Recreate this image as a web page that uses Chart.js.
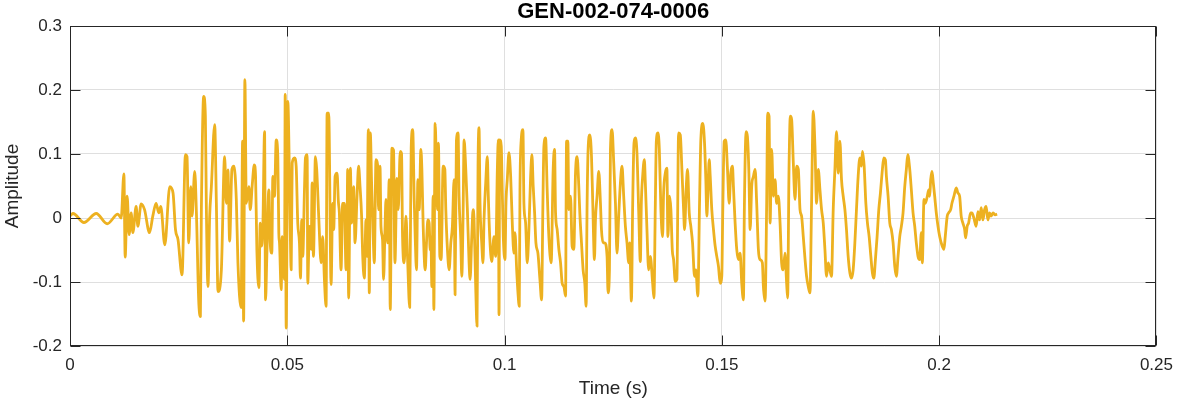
<!DOCTYPE html>
<html><head><meta charset="utf-8">
<title>GEN-002-074-0006</title>
<script src="https://cdn.jsdelivr.net/npm/chart.js"></script>
<style>
    html, body { margin: 0; padding: 0; background: #fff; }
    #wrap { width: 1182px; height: 404px; position: relative; }
</style></head>
<body>
<div id="wrap"><canvas id="grafico"></canvas></div>
<script>
// --- TEXTOS E EIXOS ---
const titulo = 'GEN-002-074-0006';
const xLabel = 'Time (s)';
const yLabel = 'Amplitude';
const xTicks = [0, 0.05, 0.1, 0.15, 0.2, 0.25];
const xTickLabels = ['0', '0.05', '0.1', '0.15', '0.2', '0.25'];
const yTicks = [-0.2, -0.1, 0, 0.1, 0.2, 0.3];
const yTickLabels = ['-0.2', '-0.1', '0', '0.1', '0.2', '0.3'];

// --- SINAL (picos e vales) ---
const timeSec = [
    0.00000,0.00030,0.00069,0.00321,0.00604,0.00856,0.01102,0.01178,0.01240,0.01270,0.01315,0.01361,0.01407,0.01446,0.01522,0.01561,0.01637,0.01715,0.01830,0.01905,0.01981,
    0.02043,0.02089,0.02181,0.02296,0.02371,0.02427,0.02486,0.02578,0.02656,0.02693,0.02732,0.02778,0.02808,0.02870,0.02909,0.02961,0.03000,0.03023,0.03076,0.03115,0.03138,0.03175,0.03214,0.03253,0.03329,0.03368,0.03405,0.03483,0.03558,0.03597,0.03634,0.03673,0.03726,0.03772,0.03827,0.03864,
    0.03937,0.03972,0.03995,0.04024,0.04057,0.04116,0.04148,0.04194,0.04240,0.04270,0.04300,0.04346,0.04378,0.04401,0.04438,0.04477,0.04500,0.04529,0.04575,0.04607,0.04644,0.04667,0.04706,0.04745,0.04782,0.04805,0.04821,0.04860,0.04883,0.04913,0.04936,0.04952,0.04975,0.05012,0.05051,0.05090,0.05113,0.05165,0.05204,0.05241,0.05280,0.05303,0.05333,0.05356,0.05395,0.05418,0.05457,0.05471,0.05510,0.05549,0.05572,0.05602,0.05647,0.05677,0.05723,0.05778,0.05815,0.05854,0.05893,0.05916,
    0.05953,0.06008,0.06045,0.06068,0.06100,0.06146,0.06175,0.06198,0.06237,0.06274,0.06313,0.06352,0.06375,0.06389,0.06412,0.06451,0.06481,0.06527,0.06559,0.06605,0.06641,0.06674,0.06710,0.06733,0.06772,0.06811,0.06834,0.06864,0.06887,0.06910,0.06940,0.06979,0.07002,0.07041,0.07078,0.07101,0.07133,0.07156,0.07192,0.07215,0.07248,0.07271,0.07307,0.07346,0.07369,0.07408,0.07445,0.07477,0.07523,0.07553,0.07599,0.07629,0.07652,0.07691,0.07730,0.07766,0.07817,0.07851,0.07886,
    0.07920,0.07943,0.07973,0.08005,0.08035,0.08074,0.08097,0.08127,0.08173,0.08203,0.08235,0.08265,0.08288,0.08304,0.08327,0.08356,0.08372,0.08402,0.08432,0.08455,0.08478,0.08510,0.08540,0.08586,0.08625,0.08648,0.08685,0.08724,0.08763,0.08799,0.08838,0.08861,0.08891,0.08930,0.08953,0.08992,0.09015,0.09045,0.09068,0.09107,0.09144,0.09183,0.09206,0.09245,0.09275,0.09298,0.09337,0.09366,0.09389,0.09412,0.09435,0.09474,0.09504,0.09527,0.09566,0.09603,0.09626,0.09658,0.09704,0.09757,0.09796,0.09833,0.09856,0.09872,
    0.09888,0.09924,0.09940,0.09970,0.10009,0.10032,0.10062,0.10101,0.10140,0.10177,0.10216,0.10239,0.10278,0.10308,0.10338,0.10354,0.10383,0.10422,0.10445,0.10484,0.10521,0.10560,0.10599,0.10629,0.10659,0.10691,0.10721,0.10767,0.10813,0.10852,0.10882,0.10905,0.10944,0.10980,0.11019,0.11072,0.11118,0.11150,0.11173,0.11210,0.11249,0.11288,0.11325,0.11364,0.11403,0.11426,0.11456,0.11479,0.11518,0.11554,0.11593,0.11632,0.11669,0.11708,0.11731,0.11770,0.11807,
    0.11846,0.11876,0.11899,0.11922,0.11961,0.12000,0.12029,0.12068,0.12091,0.12128,0.12167,0.12206,0.12229,0.12266,0.12305,0.12358,0.12381,0.12413,0.12436,0.12473,0.12512,0.12551,0.12587,0.12626,0.12665,0.12702,0.12741,0.12780,0.12817,0.12856,0.12879,0.12918,0.12948,0.12978,0.13010,0.13046,0.13085,0.13124,0.13147,0.13177,0.13216,0.13239,0.13276,0.13315,0.13354,0.13407,0.13437,0.13469,0.13492,0.13529,0.13561,0.13597,0.13636,0.13659,0.13698,0.13735,0.13758,
    0.13797,0.13827,0.13859,0.13889,0.13928,0.13965,0.14004,0.14043,0.14080,0.14119,0.14142,0.14181,0.14210,0.14249,0.14286,0.14325,0.14371,0.14401,0.14447,0.14486,0.14516,0.14562,0.14601,0.14631,0.14654,0.14676,0.14709,0.14732,0.14768,0.14807,0.14846,0.14883,0.14922,0.14961,0.14998,0.15021,0.15053,0.15090,0.15129,0.15168,0.15204,0.15244,0.15266,0.15305,0.15342,0.15381,0.15420,0.15457,0.15496,0.15519,0.15558,0.15588,0.15622,0.15650,0.15687,
    0.15726,0.15765,0.15801,0.15840,0.15879,0.15932,0.15955,0.15994,0.16031,0.16054,0.16086,0.16109,0.16146,0.16185,0.16224,0.16260,0.16299,0.16339,0.16375,0.16414,0.16453,0.16490,0.16513,0.16545,0.16575,0.16605,0.16644,0.16683,0.16720,0.16759,0.16798,0.16834,0.16873,0.16912,0.16949,0.16988,0.17027,0.17064,0.17103,0.17142,0.17179,0.17218,0.17257,0.17294,0.17333,0.17372,0.17408,0.17447,0.17486,0.17523,0.17562,0.17601,0.17638,
    0.17677,0.17716,0.17753,0.17792,0.17831,0.17867,0.17906,0.17946,0.17982,0.18021,0.18060,0.18097,0.18136,0.18175,0.18212,0.18235,0.18274,0.18313,0.18350,0.18389,0.18428,0.18464,0.18496,0.18533,0.18572,0.18611,0.18648,0.18694,0.18726,0.18763,0.18786,0.18825,0.18864,0.18900,0.18940,0.18979,0.19015,0.19054,0.19093,0.19130,0.19169,0.19208,0.19245,0.19277,0.19323,0.19360,0.19399,0.19438,0.19474,0.19513,0.19552,0.19589,0.19612,
    0.19651,0.19681,0.19727,0.19759,0.19782,0.19805,0.19835,0.19865,0.19897,0.19934,0.19973,0.20012,0.20048,0.20110,0.20140,0.20186,0.20218,0.20264,0.20294,0.20340,0.20393,0.20432,0.20471,0.20507,0.20546,0.20586,0.20608,0.20645,0.20677,0.20723,0.20753,0.20799,0.20852,0.20891,0.20930,0.20967,0.21006,0.21045,0.21081,0.21120,0.21160,0.21196,0.21242,0.21288,0.21334
];
const amplitude = [
    0.003,0.005,0.007,-0.007,0.007,-0.009,0.006,0.000,0.069,-0.061,0.034,-0.026,0.008,-0.023,0.018,-0.013,0.022,0.013,-0.023,0.003,0.023,
    0.008,0.018,-0.042,0.049,0.039,-0.018,-0.034,-0.089,0.099,0.096,-0.039,0.049,0.003,0.073,0.008,-0.128,-0.154,0.013,0.190,0.159,0.013,-0.107,0.003,0.049,0.146,0.023,-0.115,-0.081,0.096,0.023,0.075,-0.036,0.076,0.081,0.029,-0.070,
    -0.140,0.120,-0.161,0.216,0.023,0.049,0.013,0.052,0.083,0.065,-0.050,-0.109,-0.008,-0.044,-0.013,0.135,-0.128,-0.060,0.044,-0.039,-0.055,0.065,0.034,0.122,0.096,-0.023,-0.039,-0.112,-0.029,-0.065,-0.096,0.193,-0.172,0.182,0.060,-0.081,0.086,0.094,0.081,-0.008,-0.039,-0.094,-0.003,-0.060,0.044,0.094,0.099,-0.102,-0.013,-0.049,0.055,-0.060,0.096,0.076,0.003,-0.070,-0.029,-0.096,-0.138,0.164,
    0.164,-0.104,0.023,-0.018,0.065,0.070,0.026,0.008,-0.081,0.023,0.023,-0.081,-0.029,0.076,-0.125,0.078,-0.008,0.049,-0.039,0.034,0.081,0.049,0.003,-0.055,-0.094,-0.003,-0.060,0.138,-0.117,0.133,0.055,-0.034,-0.070,0.091,0.083,0.013,0.081,-0.013,-0.034,-0.096,-0.018,0.029,-0.039,0.060,-0.143,0.109,0.106,-0.070,0.062,0.013,0.104,0.101,-0.029,-0.070,0.003,-0.060,-0.140,0.110,0.138,
    0.030,-0.029,-0.081,0.060,0.013,0.107,0.076,-0.013,-0.081,-0.039,-0.003,-0.008,-0.050,-0.029,-0.107,0.034,-0.143,0.148,0.076,0.013,0.117,-0.060,-0.065,0.081,0.076,0.013,-0.049,-0.081,-0.039,-0.013,0.060,-0.120,0.120,0.133,0.034,-0.034,-0.091,0.003,0.122,0.076,0.013,-0.070,-0.096,-0.029,0.013,-0.003,-0.112,-0.169,0.081,0.141,0.023,-0.039,-0.070,-0.003,0.055,0.096,0.034,-0.029,-0.068,-0.029,-0.060,0.075,0.122,-0.151,
    0.122,0.112,0.065,-0.029,-0.065,0.023,0.060,0.102,0.065,-0.008,-0.055,-0.023,-0.081,-0.117,-0.138,0.044,0.122,0.138,0.023,-0.008,-0.070,-0.018,0.065,0.099,0.049,0.008,-0.039,-0.055,-0.096,-0.128,0.023,0.112,0.125,0.044,-0.029,-0.070,0.076,0.107,0.008,-0.018,-0.049,-0.070,-0.102,-0.107,-0.122,0.120,0.120,0.013,0.034,-0.044,-0.049,0.070,0.096,0.049,0.008,-0.039,-0.081,
    -0.102,-0.138,0.023,0.107,0.130,0.096,0.023,-0.065,-0.003,0.034,0.073,0.023,-0.018,-0.039,-0.039,-0.060,-0.117,-0.081,0.107,0.138,0.086,0.023,-0.055,0.003,0.055,0.081,0.034,-0.013,-0.039,-0.070,-0.039,-0.130,0.023,0.117,0.125,0.102,0.013,-0.068,0.023,0.065,0.091,0.055,-0.018,-0.081,-0.060,-0.102,-0.125,0.023,0.120,0.133,0.107,0.013,-0.029,0.039,0.070,0.078,-0.029,
    0.034,0.013,-0.050,-0.065,-0.099,-0.096,0.133,0.130,0.076,0.013,-0.018,0.049,0.076,0.008,-0.013,-0.039,-0.091,-0.081,-0.122,0.023,0.122,0.148,0.117,0.060,0.003,0.034,0.091,0.065,0.013,-0.018,-0.044,-0.060,-0.076,-0.102,-0.091,0.013,0.120,0.122,0.076,0.023,0.070,0.081,0.049,-0.008,-0.049,-0.065,-0.055,-0.102,-0.128,0.023,0.135,0.127,0.070,-0.018,0.050,
    0.065,0.076,0.023,-0.049,-0.065,-0.070,-0.107,-0.130,0.023,0.164,0.159,-0.008,0.107,0.034,0.060,0.023,0.034,-0.008,-0.070,-0.081,-0.055,-0.102,-0.125,0.076,0.159,0.154,0.086,0.029,0.081,0.076,0.013,0.003,-0.029,-0.063,-0.091,-0.107,-0.117,0.023,0.167,0.112,0.023,0.076,0.044,0.013,-0.008,-0.050,-0.091,-0.070,-0.081,-0.091,0.013,0.076,0.135,
    0.070,0.120,0.060,0.034,0.013,-0.018,-0.060,-0.086,-0.094,-0.081,-0.039,0.013,0.065,0.094,0.081,0.104,0.081,0.023,-0.008,-0.029,-0.060,-0.086,-0.094,-0.065,-0.029,0.013,0.039,0.076,0.094,0.091,0.065,0.034,-0.008,-0.018,-0.039,-0.076,-0.091,-0.060,-0.029,-0.013,0.008,0.049,0.076,0.099,0.076,0.044,0.008,-0.013,-0.039,-0.060,-0.065,-0.023,-0.070,
    0.029,0.023,0.034,0.044,0.034,0.060,0.073,0.055,0.034,0.008,-0.013,-0.029,-0.039,-0.049,-0.029,0.003,0.008,0.013,0.023,0.034,0.047,0.039,0.034,0.003,-0.008,-0.018,-0.031,-0.013,-0.008,0.008,0.008,0.000,-0.013,0.010,-0.003,0.016,-0.003,0.013,0.018,-0.003,0.008,0.003,0.008,0.005,0.006
];

// --- ESTILO ---
const FONTE = "'Liberation Sans', Arial, Helvetica, sans-serif";
const COR_LINHA = '#EDB120';
const COR_EIXO = '#262626';
const COR_GRADE = '#dfdfdf';

const n = Math.min(timeSec.length, amplitude.length);
const pontos = [];
for (let i = 0; i < n; i++) pontos.push({ x: timeSec[i], y: amplitude[i] });

// caixa estilo MATLAB com ticks para dentro nos quatro lados + titulo centrado na area do grafico
const caixaPlugin = {
    id: 'caixa',
    afterDatasetsDraw(chart) {
        const { ctx, chartArea: a, scales } = chart;
        const L = Math.round(a.left) + 0.5, R = Math.round(a.right) - 0.5;
        const T = Math.round(a.top) + 0.5, B = Math.round(a.bottom) - 0.5;
        const tam = 10;
        ctx.save();
        ctx.strokeStyle = COR_EIXO;
        ctx.lineWidth = 1;
        ctx.strokeRect(L, T, R - L, B - T);
        ctx.beginPath();
        xTicks.forEach(v => {
            const px = Math.round(scales.x.getPixelForValue(v)) + 0.5;
            ctx.moveTo(px, B); ctx.lineTo(px, B - tam);
            ctx.moveTo(px, T); ctx.lineTo(px, T + tam);
        });
        yTicks.forEach(v => {
            const py = Math.round(scales.y.getPixelForValue(v)) + 0.5;
            ctx.moveTo(L, py); ctx.lineTo(L + tam, py);
            ctx.moveTo(R, py); ctx.lineTo(R - tam, py);
        });
        ctx.stroke();

        ctx.fillStyle = '#000';
        ctx.font = 'bold 22px ' + FONTE;
        ctx.textAlign = 'center';
        ctx.textBaseline = 'alphabetic';
        ctx.fillText(titulo, (a.left + a.right) / 2, a.top - 8);
        ctx.restore();
    }
};

new Chart(document.getElementById('grafico'), {
    type: 'line',
    data: {
        datasets: [{
            data: pontos,
            borderColor: COR_LINHA,
            borderWidth: 2.8,
            pointRadius: 0,
            tension: 0,
            cubicInterpolationMode: 'monotone',
            borderJoinStyle: 'round',
            fill: false
        }]
    },
    options: {
        responsive: true,
        maintainAspectRatio: false,
        animation: false,
        events: [],
        layout: { padding: { left: 0, right: 22, top: 26, bottom: 0 } },
        plugins: {
            legend: { display: false },
            tooltip: { enabled: false },
            title: { display: false }
        },
        scales: {
            x: {
                type: 'linear',
                min: 0, max: 0.25,
                afterBuildTicks: s => { s.ticks = xTicks.map(v => ({ value: v })); },
                afterFit: s => { s.height = 58; },
                ticks: {
                    callback: (v, i) => xTickLabels[i],
                    color: COR_EIXO,
                    font: { family: FONTE, size: 17 },
                    padding: 9,
                    maxRotation: 0
                },
                grid: { color: COR_GRADE, drawTicks: false },
                border: { display: false },
                title: {
                    display: true,
                    text: xLabel,
                    color: COR_EIXO,
                    font: { family: FONTE, size: 19, lineHeight: 1 },
                    padding: { top: 0, bottom: 6 }
                }
            },
            y: {
                min: -0.2, max: 0.3,
                afterBuildTicks: s => { s.ticks = yTicks.map(v => ({ value: v })); },
                afterFit: s => { s.width = 70; },
                ticks: {
                    callback: (v, i) => yTickLabels[i],
                    color: COR_EIXO,
                    font: { family: FONTE, size: 17 },
                    padding: 8
                },
                grid: { color: COR_GRADE, drawTicks: false },
                border: { display: false },
                title: {
                    display: true,
                    text: yLabel,
                    color: COR_EIXO,
                    font: { family: FONTE, size: 19, lineHeight: 1 },
                    padding: { top: 3, bottom: 0 }
                }
            }
        }
    },
    plugins: [caixaPlugin]
});
</script></body></html>
